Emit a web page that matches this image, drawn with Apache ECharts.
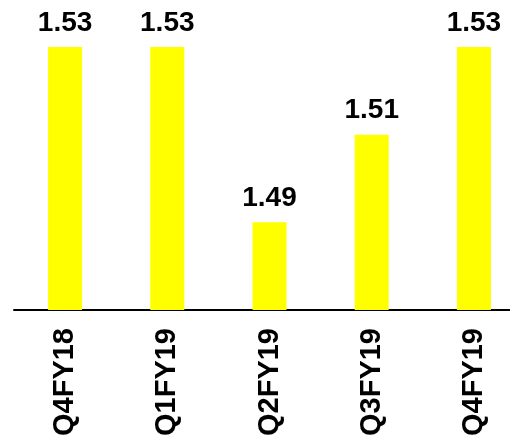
<!DOCTYPE html>
<html>
<head>
<meta charset="utf-8">
<script src="https://cdn.jsdelivr.net/npm/echarts@6/dist/echarts.min.js"></script>
<style>
html,body{margin:0;padding:0;background:#fff;overflow:hidden;}
#wrap{width:510px;height:441px;overflow:hidden;}
#chart{width:525px;height:441px;}
</style>
</head>
<body>
<div id="wrap"><div id="chart"></div></div>
<script>
const categories = ["Q4FY18", "Q1FY19", "Q2FY19", "Q3FY19", "Q4FY19"];
const values = [1.53, 1.53, 1.49, 1.51, 1.53];

const chart = echarts.init(document.getElementById('chart'), null, {renderer: 'canvas'});
const fontFamily = '"Liberation Sans", Arial, sans-serif';
chart.setOption({
  animation: false,
  backgroundColor: '#ffffff',
  grid: {left: 14, top: 47, right: 0, height: 263, containLabel: false},
  xAxis: {
    type: 'category',
    data: categories,
    axisLine: {show: true, lineStyle: {color: '#000', width: 2}},
    axisTick: {show: false},
    axisLabel: {
      rotate: 90,
      margin: 18,
      color: '#000',
      fontSize: 29,
      fontWeight: 'bold',
      fontFamily: fontFamily
    }
  },
  yAxis: {
    type: 'value',
    min: 1.47,
    max: 1.53,
    show: false,
    splitLine: {show: false}
  },
  series: [{
    type: 'bar',
    data: values,
    barWidth: 34,
    itemStyle: {color: '#ffff00'},
    label: {
      show: true,
      position: 'top',
      distance: 10,
      color: '#000',
      fontSize: 28,
      fontWeight: 'bold',
      fontFamily: fontFamily,
      formatter: p => p.value.toFixed(2)
    }
  }]
});
</script>
</body>
</html>
